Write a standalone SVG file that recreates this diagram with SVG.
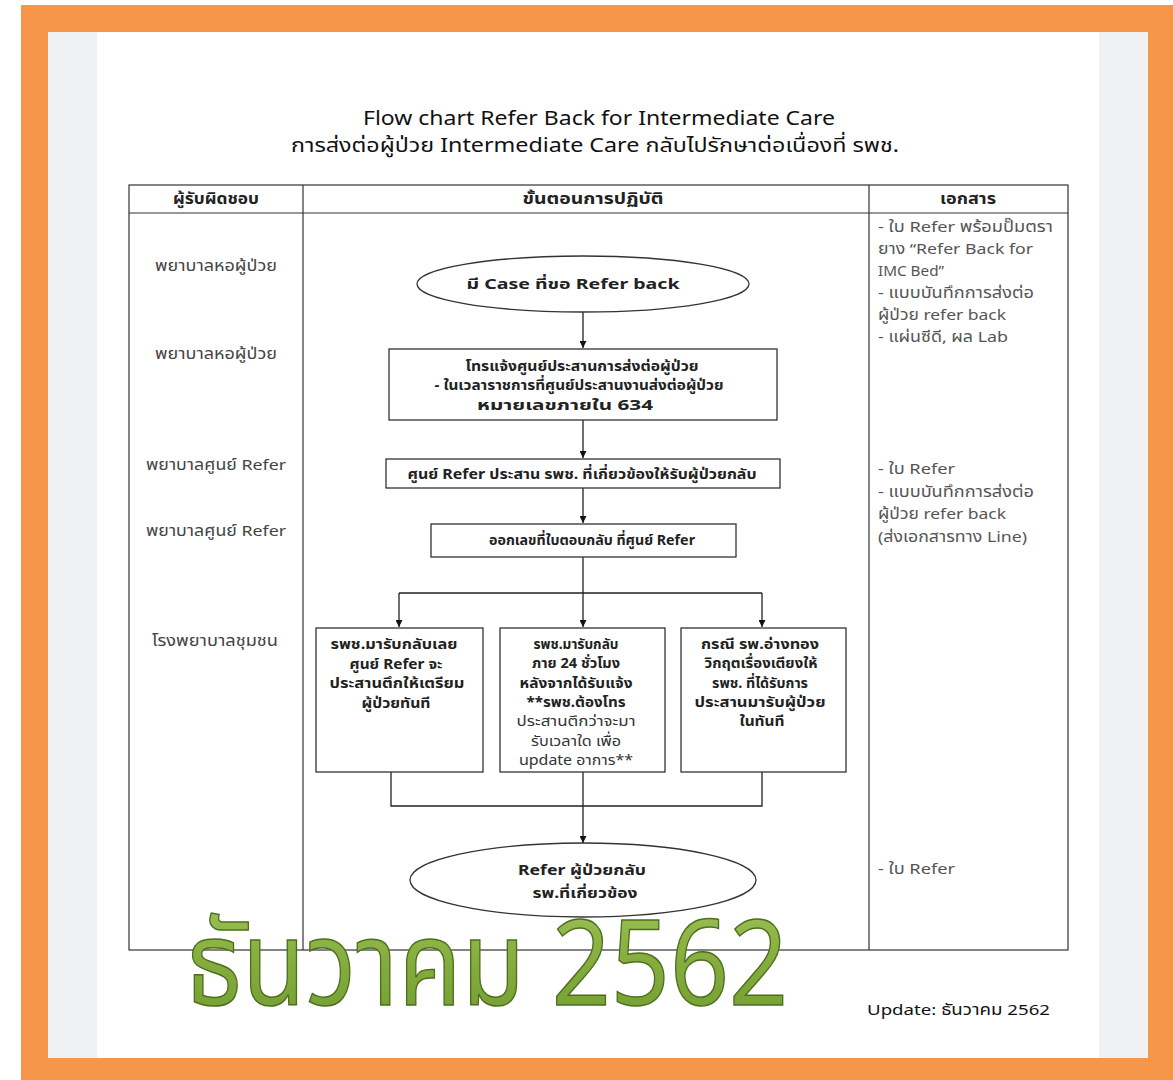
<svg xmlns="http://www.w3.org/2000/svg" width="1173" height="1080" viewBox="0 0 1173 1080">
<defs>
<style>
text{font-family:"Noto Sans","Noto Sans Thai","DejaVu Sans",sans-serif;fill:#222}
.t{font-size:20px;text-anchor:middle;fill:#111}
.h{font-size:15px;font-weight:bold;text-anchor:middle}
.l{font-size:15px;text-anchor:middle;fill:#444}
.r{font-size:15px;fill:#555}
.b{font-size:14.5px;font-weight:bold;text-anchor:middle;fill:#222}
.n{font-size:14.5px;text-anchor:middle;fill:#333}
.grid{fill:none;stroke:#333;stroke-width:1.2}
.box{fill:#fff;stroke:#333;stroke-width:1.3}
.c{fill:none;stroke:#222;stroke-width:1.3}
</style>
<marker id="ah" viewBox="0 0 10 10" refX="10" refY="5" markerWidth="7" markerHeight="7" orient="auto" markerUnits="userSpaceOnUse">
<path d="M0,0L10,5L0,10z" fill="#111"/>
</marker>
<linearGradient id="gg" x1="0" y1="0" x2="0" y2="1">
<stop offset="0" stop-color="#a6c860"/>
<stop offset="0.5" stop-color="#86ad3e"/>
<stop offset="1" stop-color="#6e9a2e"/>
</linearGradient>
</defs>
<rect x="0" y="0" width="1173" height="1080" fill="#ffffff"/>
<rect x="21" y="5" width="1152" height="1075" fill="#f6964a"/>
<rect x="48" y="32" width="1100" height="1026" fill="#f0f1f3"/>
<rect x="97" y="32" width="1002" height="1026" fill="#ffffff"/>

<g id="title">
<text class="t" x="599" y="125" textLength="472" lengthAdjust="spacingAndGlyphs">Flow chart Refer Back for Intermediate Care</text>
<text class="t" x="595" y="152" textLength="608" lengthAdjust="spacingAndGlyphs">การส่งต่อผู้ป่วย Intermediate Care กลับไปรักษาต่อเนื่องที่ รพช.</text>
</g>

<g id="table">
<rect class="grid" x="129" y="185" width="939" height="765"/>
<line class="grid" x1="129" y1="213" x2="1068" y2="213"/>
<line class="grid" x1="303" y1="185" x2="303" y2="950"/>
<line class="grid" x1="869" y1="185" x2="869" y2="950"/>
<text class="h" x="216" y="204" textLength="86" lengthAdjust="spacingAndGlyphs">ผู้รับผิดชอบ</text>
<text class="h" x="593" y="204" textLength="141" lengthAdjust="spacingAndGlyphs">ขั้นตอนการปฏิบัติ</text>
<text class="h" x="968" y="204" textLength="56" lengthAdjust="spacingAndGlyphs">เอกสาร</text>
</g>

<g id="responsible">
<text class="l" x="216" y="271" textLength="122" lengthAdjust="spacingAndGlyphs">พยาบาลหอผู้ป่วย</text>
<text class="l" x="216" y="359" textLength="122" lengthAdjust="spacingAndGlyphs">พยาบาลหอผู้ป่วย</text>
<text class="l" x="216" y="470" textLength="140" lengthAdjust="spacingAndGlyphs">พยาบาลศูนย์ Refer</text>
<text class="l" x="216" y="536" textLength="140" lengthAdjust="spacingAndGlyphs">พยาบาลศูนย์ Refer</text>
<text class="l" x="215" y="646" textLength="126" lengthAdjust="spacingAndGlyphs">โรงพยาบาลชุมชน</text>
</g>

<g id="documents">
<text class="r" x="878" y="232" textLength="175" lengthAdjust="spacingAndGlyphs">- ใบ Refer พร้อมปั๊มตรา</text>
<text class="r" x="878" y="254" textLength="155" lengthAdjust="spacingAndGlyphs">ยาง “Refer Back for</text>
<text class="r" x="878" y="276" textLength="66" lengthAdjust="spacingAndGlyphs">IMC Bed”</text>
<text class="r" x="878" y="298" textLength="156" lengthAdjust="spacingAndGlyphs">- แบบบันทึกการส่งต่อ</text>
<text class="r" x="878" y="320" textLength="128" lengthAdjust="spacingAndGlyphs">ผู้ป่วย refer back</text>
<text class="r" x="878" y="342" textLength="130" lengthAdjust="spacingAndGlyphs">- แผ่นซีดี, ผล Lab</text>
<text class="r" x="878" y="474" textLength="77" lengthAdjust="spacingAndGlyphs">- ใบ Refer</text>
<text class="r" x="878" y="497" textLength="156" lengthAdjust="spacingAndGlyphs">- แบบบันทึกการส่งต่อ</text>
<text class="r" x="878" y="519" textLength="128" lengthAdjust="spacingAndGlyphs">ผู้ป่วย refer back</text>
<text class="r" x="878" y="542" textLength="149" lengthAdjust="spacingAndGlyphs">(ส่งเอกสารทาง Line)</text>
<text class="r" x="878" y="874" textLength="77" lengthAdjust="spacingAndGlyphs">- ใบ Refer</text>
</g>

<g id="connectors">
<line class="c" x1="583" y1="312" x2="583" y2="348" marker-end="url(#ah)"/>
<line class="c" x1="583" y1="420" x2="583" y2="458" marker-end="url(#ah)"/>
<line class="c" x1="583" y1="488" x2="583" y2="523" marker-end="url(#ah)"/>
<polyline class="c" points="583,557 583,593"/>
<polyline class="c" points="399,593 762,593"/>
<line class="c" x1="583" y1="593" x2="583" y2="627" marker-end="url(#ah)"/>
<polyline class="c" points="399,593 399,627" marker-end="url(#ah)"/>
<polyline class="c" points="762,593 762,627" marker-end="url(#ah)"/>
<polyline class="c" points="391,772 391,806 762,806 762,772"/>
<line class="c" x1="583" y1="772" x2="583" y2="843" marker-end="url(#ah)"/>
</g>

<g id="n1">
<ellipse class="box" cx="583" cy="284" rx="166" ry="28"/>
<text class="b" x="573" y="289" textLength="213" lengthAdjust="spacingAndGlyphs">มี Case ที่ขอ Refer back</text>
</g>
<g id="n2">
<rect class="box" x="389" y="349" width="388" height="71"/>
<text class="b" x="582" y="371" textLength="233" lengthAdjust="spacingAndGlyphs">โทรแจ้งศูนย์ประสานการส่งต่อผู้ป่วย</text>
<text class="b" x="579" y="390" textLength="289" lengthAdjust="spacingAndGlyphs">-  ในเวลาราชการที่ศูนย์ประสานงานส่งต่อผู้ป่วย</text>
<text class="b" x="565" y="410" textLength="176" lengthAdjust="spacingAndGlyphs">หมายเลขภายใน  634</text>
</g>
<g id="n3">
<rect class="box" x="386" y="459" width="394" height="29"/>
<text class="b" x="582" y="479" textLength="349" lengthAdjust="spacingAndGlyphs">ศูนย์ Refer ประสาน รพช. ที่เกี่ยวข้องให้รับผู้ป่วยกลับ</text>
</g>
<g id="n4">
<rect class="box" x="431" y="524" width="305" height="33"/>
<text class="b" x="592" y="545" textLength="206" lengthAdjust="spacingAndGlyphs">ออกเลขที่ใบตอบกลับ ที่ศูนย์ Refer</text>
</g>
<g id="n5">
<rect class="box" x="316" y="628" width="167" height="144"/>
<text class="b" x="394" y="649" textLength="127" lengthAdjust="spacingAndGlyphs">รพช.มารับกลับเลย</text>
<text class="b" x="396" y="669" textLength="93" lengthAdjust="spacingAndGlyphs">ศูนย์ Refer จะ</text>
<text class="b" x="397" y="688" textLength="135" lengthAdjust="spacingAndGlyphs">ประสานตึกให้เตรียม</text>
<text class="b" x="396" y="708" textLength="69" lengthAdjust="spacingAndGlyphs">ผู้ป่วยทันที</text>
</g>
<g id="n6">
<rect class="box" x="500" y="628" width="165" height="144"/>
<text class="b" x="576" y="649" textLength="85" lengthAdjust="spacingAndGlyphs">รพช.มารับกลับ</text>
<text class="b" x="576" y="668" textLength="88" lengthAdjust="spacingAndGlyphs">ภาย 24 ชั่วโมง</text>
<text class="b" x="576" y="688" textLength="113" lengthAdjust="spacingAndGlyphs">หลังจากได้รับแจ้ง</text>
<text class="b" x="576" y="707" textLength="99" lengthAdjust="spacingAndGlyphs">**รพช.ต้องโทร</text>
<text class="n" x="576" y="726" textLength="119" lengthAdjust="spacingAndGlyphs">ประสานตึกว่าจะมา</text>
<text class="n" x="576" y="746" textLength="90" lengthAdjust="spacingAndGlyphs">รับเวลาใด เพื่อ</text>
<text class="n" x="576" y="765" textLength="114" lengthAdjust="spacingAndGlyphs">update อาการ**</text>
</g>
<g id="n7">
<rect class="box" x="681" y="628" width="165" height="144"/>
<text class="b" x="760" y="649" textLength="118" lengthAdjust="spacingAndGlyphs">กรณี   รพ.อ่างทอง</text>
<text class="b" x="761" y="668" textLength="113" lengthAdjust="spacingAndGlyphs">วิกฤตเรื่องเตียงให้</text>
<text class="b" x="760" y="688" textLength="96" lengthAdjust="spacingAndGlyphs">รพช. ที่ได้รับการ</text>
<text class="b" x="760" y="707" textLength="131" lengthAdjust="spacingAndGlyphs">ประสานมารับผู้ป่วย</text>
<text class="b" x="762" y="726" textLength="45" lengthAdjust="spacingAndGlyphs">ในทันที</text>
</g>
<g id="n8">
<ellipse class="box" cx="583" cy="880" rx="173" ry="37"/>
<text class="b" x="582" y="875" font-size="14" style="font-size:14px" textLength="128" lengthAdjust="spacingAndGlyphs">Refer ผู้ป่วยกลับ</text>
<text class="b" x="585" y="898" font-size="14" style="font-size:14px" textLength="105" lengthAdjust="spacingAndGlyphs">รพ.ที่เกี่ยวข้อง</text>
</g>

<g id="stamp">
<text x="186" y="1005" font-size="118" textLength="602" lengthAdjust="spacingAndGlyphs" stroke="#4d6e1e" stroke-width="1.5" style="fill:url(#gg)">ธันวาคม 2562</text>
<text x="867" y="1015" font-size="15" textLength="183" lengthAdjust="spacingAndGlyphs" style="fill:#111">Update: ธันวาคม 2562</text>
</g>
</svg>
